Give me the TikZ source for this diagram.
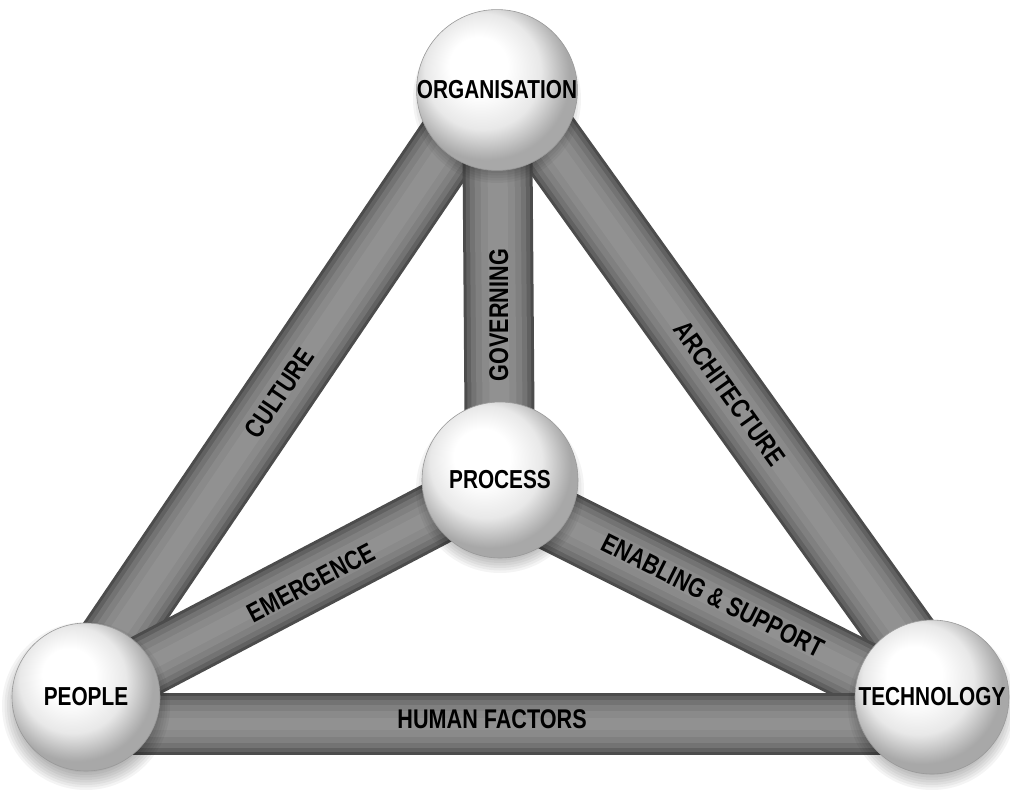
\documentclass[tikz,border=0pt]{standalone}
\usepackage{fontspec}
\newfontfamily\labfont[FakeStretch=0.8]{Liberation Sans}
\pgfdeclarelayer{background}
\pgfsetlayers{background,main}
\pgfdeclareradialshading{spheresh}{\pgfpoint{-7bp}{9bp}}{color(0bp)=(white); color(9bp)=(white); color(18bp)=(black!9); color(24bp)=(black!28); color(26bp)=(black!34); color(50bp)=(black!34)}
\tikzset{
  sphere/.style={circle, inner sep=0pt, minimum size=#1, shading=spheresh, draw=black!40, line width=0.6pt,
    font=\labfont\bfseries\fontsize{26}{26}\selectfont, text=black},
  bar/.style={line width=#1, draw=black!70,
    postaction={draw=black!62, line width=#1-6pt},
    postaction={draw=black!55, line width=#1-14pt},
    postaction={draw=black!50, line width=#1-24pt},
    postaction={draw=black!46, line width=#1-36pt},
    postaction={draw=black!43, line width=#1-50pt}},
  bar/.default=68pt,
  barlabel/.style={font=\labfont\bfseries\fontsize{27}{27}\selectfont, text=black, inner sep=0pt},
}
\begin{document}
\begin{tikzpicture}[x=1pt,y=-1pt]
\useasboundingbox (0,0) rectangle (1010,793);
\node[sphere=152pt] (org)  at (497,90)  {ORGANISATION};
\node[sphere=156pt] (proc) at (500,480) {PROCESS};
\node[sphere=148pt] (peo)  at (86,697)  {PEOPLE};
\node[sphere=154pt] (tech) at (932,697) {TECHNOLOGY};
\begin{pgfonlayer}{background}
  \fill[white] (0,0) rectangle (1010,793);
  % bars
  \draw[bar] ([xshift=-12pt]peo.center) -- ([xshift=-12pt]org.center)
     node[barlabel, sloped, pos=0.5] {CULTURE};
  \draw[bar] ([xshift=15pt]org.center) -- ([xshift=15pt]tech.center)
     node[barlabel, sloped, pos=0.5] {ARCHITECTURE};
  \draw[bar=70pt] (org.center) -- (proc.center)
     node[barlabel, rotate=90, pos=0.577] {GOVERNING};
  \draw[bar=64pt] (peo.center) -- (proc.center)
     node[barlabel, sloped, pos=0.54, yshift=-3pt] {EMERGENCE};
  \draw[bar=66pt] ([yshift=-12pt]proc.center) -- ([yshift=-12pt]tech.center)
     node[barlabel, sloped, pos=0.49, yshift=3pt] {ENABLING \& SUPPORT};
  \draw[bar=62pt] ([yshift=-27pt]peo.center) -- ([yshift=-27pt]tech.center)
     node[barlabel, pos=0.48, yshift=5pt] {HUMAN FACTORS};
  % soft shadows of the spheres
  \foreach \n in {org,proc,peo,tech}{
    \foreach \k in {0,...,7}{
      \fill[black, opacity=0.045] ([yshift=-9pt]\n.center) circle[radius=84pt-2.5pt*\k];
    }
  }
\end{pgfonlayer}
\end{tikzpicture}
\end{document}
